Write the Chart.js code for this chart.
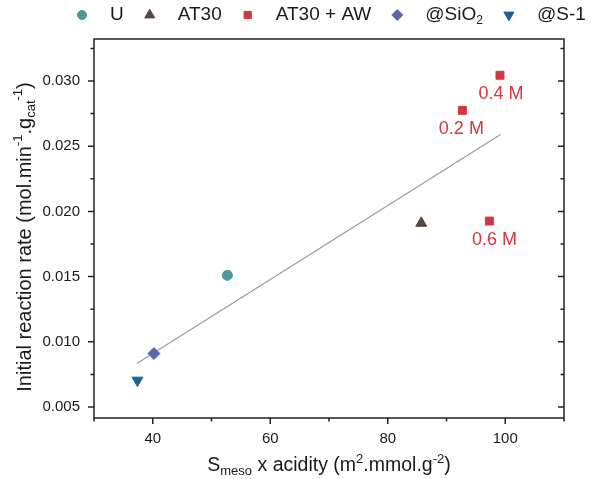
<!DOCTYPE html>
<html lang="en">

<head>
    <meta charset="UTF-8">
    <title>Initial reaction rate vs Smeso x acidity</title>
    <style>
        body {
            margin: 0;
            background-color: #ffffff;
        }

        .chart-container {
            width: 593px;
            height: 479px;
        }
    </style>
</head>

<body>
    <div class="chart-container">
        <canvas id="rateChart"></canvas>
    </div>

    <script src="https://cdn.jsdelivr.net/npm/chart.js"></script>
    <script>
        // data
        const seriesNames = ['U', 'AT30', 'AT30 + AW', '@SiO_{2}', '@S-1'];

        const smesoU = [52.7];
        const rateU = [0.0151];

        const smesoAT30 = [85.7];
        const rateAT30 = [0.0191];

        const smesoAW = [92.7, 99.1, 97.3];
        const rateAW = [0.02775, 0.03044, 0.01926];
        const concLabels = ['0.2 M', '0.4 M', '0.6 M'];

        const smesoSiO2 = [40.2];
        const rateSiO2 = [0.0091];

        const smesoS1 = [37.4];
        const rateS1 = [0.00705];

        const fitX = [37.3, 99.2];
        const fitY = [0.00833, 0.02589];

        const xTicks = [40, 60, 80, 100];
        const xMinor = [30, 50, 70, 90, 110];
        const yTicks = [0.005, 0.010, 0.015, 0.020, 0.025, 0.030];
        const yMinor = [0.0075, 0.0125, 0.0175, 0.0225, 0.0275, 0.0325];

        const xTitle = 'S_{meso} x acidity (m^{2}.mmol.g^{-2})';
        const yTitle = 'Initial reaction rate (mol.min^{-1}.g_{cat}^{-1})';

        const FONT = '"Liberation Sans", Arial, sans-serif';
        const TEXT = '#1a1a1a';
        const RED = '#d0373f';

        const pts = (xs, ys) => xs.map((x, i) => ({ x: x, y: ys[i] }));

        // split "a_{b}^{c}" into pieces
        function parseRich(str) {
            const parts = [];
            const re = /([_^])\{([^}]*)\}|([^_^]+)/g;
            let m;
            while ((m = re.exec(str)) !== null) {
                if (m[3]) parts.push({ t: m[3], k: 'n' });
                else parts.push({ t: m[2], k: m[1] === '_' ? 'sub' : 'sup' });
            }
            return parts;
        }

        function richWidth(ctx, parts, size) {
            let w = 0;
            parts.forEach(p => {
                ctx.font = (p.k === 'n' ? size : Math.round(size * 0.65)) + 'px ' + FONT;
                w += ctx.measureText(p.t).width;
            });
            return w;
        }

        function drawRich(ctx, str, x, y, size, color) {
            const parts = parseRich(str);
            ctx.fillStyle = color;
            ctx.textBaseline = 'middle';
            ctx.textAlign = 'left';
            let cx = x;
            parts.forEach(p => {
                let dy = 0;
                if (p.k === 'sub') dy = size * 0.3;
                if (p.k === 'sup') dy = -size * 0.35;
                ctx.font = (p.k === 'n' ? size : Math.round(size * 0.65)) + 'px ' + FONT;
                ctx.fillText(p.t, cx, y + dy);
                cx += ctx.measureText(p.t).width;
            });
            return cx - x;
        }

        const frameAndTitles = {
            id: 'frameAndTitles',
            afterDraw(chart) {
                const ctx = chart.ctx;
                const a = chart.chartArea;
                const xs = chart.scales.x;
                const ys = chart.scales.y;
                ctx.save();
                ctx.strokeStyle = '#222';
                ctx.lineWidth = 1.5;
                ctx.strokeRect(a.left, a.top, a.right - a.left, a.bottom - a.top);

                ctx.beginPath();
                xTicks.concat(xMinor).forEach(v => {
                    const px = xs.getPixelForValue(v);
                    const len = xTicks.includes(v) ? 6 : 3.5;
                    ctx.moveTo(px, a.bottom);
                    ctx.lineTo(px, a.bottom + len);
                });
                yTicks.concat(yMinor).forEach(v => {
                    const py = ys.getPixelForValue(v);
                    const len = yTicks.includes(v) ? 6 : 3.5;
                    ctx.moveTo(a.left, py);
                    ctx.lineTo(a.left - len, py);
                    ctx.moveTo(a.right, py);
                    ctx.lineTo(a.right - len, py);
                });
                ctx.stroke();

                // axis titles
                const xParts = parseRich(xTitle);
                const xw = richWidth(ctx, xParts, 19.5);
                drawRich(ctx, xTitle, (a.left + a.right) / 2 - xw / 2, 466, 19.5, TEXT);

                const yParts = parseRich(yTitle);
                const yw = richWidth(ctx, yParts, 20);
                ctx.translate(25, 237);
                ctx.rotate(-Math.PI / 2);
                drawRich(ctx, yTitle, -yw / 2, 0, 20, TEXT);
                ctx.restore();
            }
        };

        const concLabelPlugin = {
            id: 'concLabels',
            afterDatasetsDraw(chart) {
                const ctx = chart.ctx;
                const meta = chart.getDatasetMeta(2);
                const dx = [-1, 1, 5];
                ctx.save();
                ctx.font = '18px ' + FONT;
                ctx.fillStyle = RED;
                ctx.textAlign = 'center';
                ctx.textBaseline = 'middle';
                meta.data.forEach((el, i) => {
                    ctx.fillText(concLabels[i], el.x + dx[i], el.y + 19);
                });
                ctx.restore();
            }
        };

        const topLegend = {
            id: 'topLegend',
            afterDraw(chart) {
                const ctx = chart.ctx;
                let x = 82;
                const y = 15;
                ctx.save();
                seriesNames.forEach((name, i) => {
                    const ds = chart.data.datasets[i];
                    ctx.fillStyle = ds.backgroundColor;
                    ctx.strokeStyle = ds.borderColor;
                    ctx.lineWidth = 1;
                    Chart.helpers.drawPoint(ctx, {
                        pointStyle: ds.pointStyle,
                        radius: ds.pointRadius - 0.5,
                        rotation: ds.rotation || 0,
                        borderWidth: 1
                    }, x, y);
                    const w = drawRich(ctx, name, x + 28, y, 19, TEXT);
                    x += 28 + w + 26;
                });
                ctx.restore();
            }
        };

        const ctx = document.getElementById('rateChart').getContext('2d');

        new Chart(ctx, {
            type: 'scatter',
            data: {
                datasets: [
                    {
                        label: seriesNames[0],
                        data: pts(smesoU, rateU),
                        pointStyle: 'circle',
                        pointRadius: 5,
                        backgroundColor: '#4b9a99',
                        borderColor: '#4b9a99'
                    },
                    {
                        label: seriesNames[1],
                        data: pts(smesoAT30, rateAT30),
                        pointStyle: 'triangle',
                        pointRadius: 6.3,
                        backgroundColor: '#5a463f',
                        borderColor: '#5a463f'
                    },
                    {
                        label: seriesNames[2],
                        data: pts(smesoAW, rateAW),
                        pointStyle: 'rect',
                        pointRadius: 5.6,
                        backgroundColor: RED,
                        borderColor: RED
                    },
                    {
                        label: seriesNames[3],
                        data: pts(smesoSiO2, rateSiO2),
                        pointStyle: 'rectRot',
                        pointRadius: 6,
                        backgroundColor: '#5b67a6',
                        borderColor: '#5b67a6'
                    },
                    {
                        label: seriesNames[4],
                        data: pts(smesoS1, rateS1),
                        pointStyle: 'triangle',
                        rotation: 180,
                        pointRotation: 180,
                        pointRadius: 6.3,
                        backgroundColor: '#1e6394',
                        borderColor: '#1e6394'
                    },
                    {
                        label: 'fit',
                        type: 'line',
                        data: pts(fitX, fitY),
                        showLine: true,
                        pointRadius: 0,
                        borderColor: '#9a9a9a',
                        borderWidth: 1.2,
                        fill: false,
                        order: 10
                    }
                ]
            },
            options: {
                responsive: true,
                maintainAspectRatio: false,
                animation: false,
                layout: {
                    padding: { top: 39, right: 29, bottom: 0, left: 0 }
                },
                plugins: {
                    legend: { display: false },
                    tooltip: { enabled: false }
                },
                scales: {
                    x: {
                        type: 'linear',
                        min: 30,
                        max: 110,
                        grid: { display: false, drawTicks: false },
                        border: { display: false },
                        afterBuildTicks: (scale) => {
                            scale.ticks = xTicks.map(v => ({ value: v }));
                        },
                        afterFit: (scale) => {
                            scale.height = 61;
                        },
                        ticks: {
                            padding: 12,
                            color: TEXT,
                            font: { family: FONT, size: 15 }
                        }
                    },
                    y: {
                        type: 'linear',
                        min: 0.00416,
                        max: 0.03322,
                        grid: { display: false, drawTicks: false },
                        border: { display: false },
                        afterBuildTicks: (scale) => {
                            scale.ticks = yTicks.map(v => ({ value: v }));
                        },
                        afterFit: (scale) => {
                            scale.width = 94;
                        },
                        ticks: {
                            padding: 14,
                            color: TEXT,
                            font: { family: FONT, size: 15 },
                            callback: (value) => value.toFixed(3)
                        }
                    }
                }
            },
            plugins: [frameAndTitles, concLabelPlugin, topLegend]
        });
    </script>
</body>

</html>
